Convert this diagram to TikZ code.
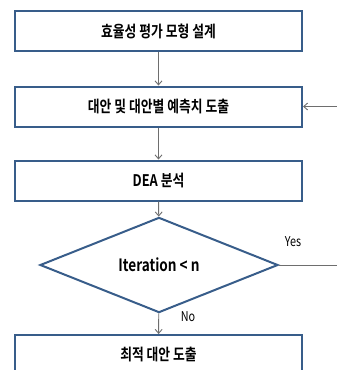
\documentclass[tikz,border=0pt]{standalone}
\usepackage{fontspec}
\setmainfont{Noto Sans CJK KR}[BoldFont={Noto Sans CJK KR Bold},FakeStretch=0.8]
\usetikzlibrary{shapes.geometric,arrows.meta}
\definecolor{boxblue}{RGB}{56,93,138}
\definecolor{linegray}{RGB}{110,110,110}

\begin{document}
\begin{tikzpicture}[x=1pt,y=-1pt,
	box/.style={draw=boxblue,line width=2pt,minimum width=287pt,minimum height=40pt,inner sep=0pt,font=\bfseries\fontsize{16}{18}\selectfont},
	test/.style={diamond,draw=boxblue,line width=2pt,minimum width=238pt,minimum height=66pt,inner sep=0pt,font=\bfseries\fontsize{17}{19}\selectfont},
	conn/.style={draw=linegray,line width=0.9pt,-{Straight Barb[length=4pt,width=7pt]}},
	lbl/.style={font=\fontsize{13.5}{15}\selectfont,inner sep=0pt}]
	\path[use as bounding box,clip] (0,0) rectangle (337,370);
	\node[box] (b1) at (158.5,31) {효율성 평가 모형 설계};
	\node[box] (b2) at (158.5,106.5) {대안 및 대안별 예측치 도출};
	\node[box] (b3) at (158.5,180.5) {DEA 분석};
	\node[test] (it) at (159,265) {Iteration < n};
	\node[box] (b4) at (158.5,355) {최적 대안 도출};
	\coordinate (back) at (350,265);
	\foreach \a/\b in {b1/b2,b2/b3,b3/it,it/b4} {
		\draw[conn] (\a) -- (\b);
	}
	\draw[conn] (it.east) -- (back) |- (b2.east);
	\node[lbl] (yes) at (293,242) {Yes};
	\node[lbl] (no) at (188,317) {No};
\end{tikzpicture}
\end{document}
